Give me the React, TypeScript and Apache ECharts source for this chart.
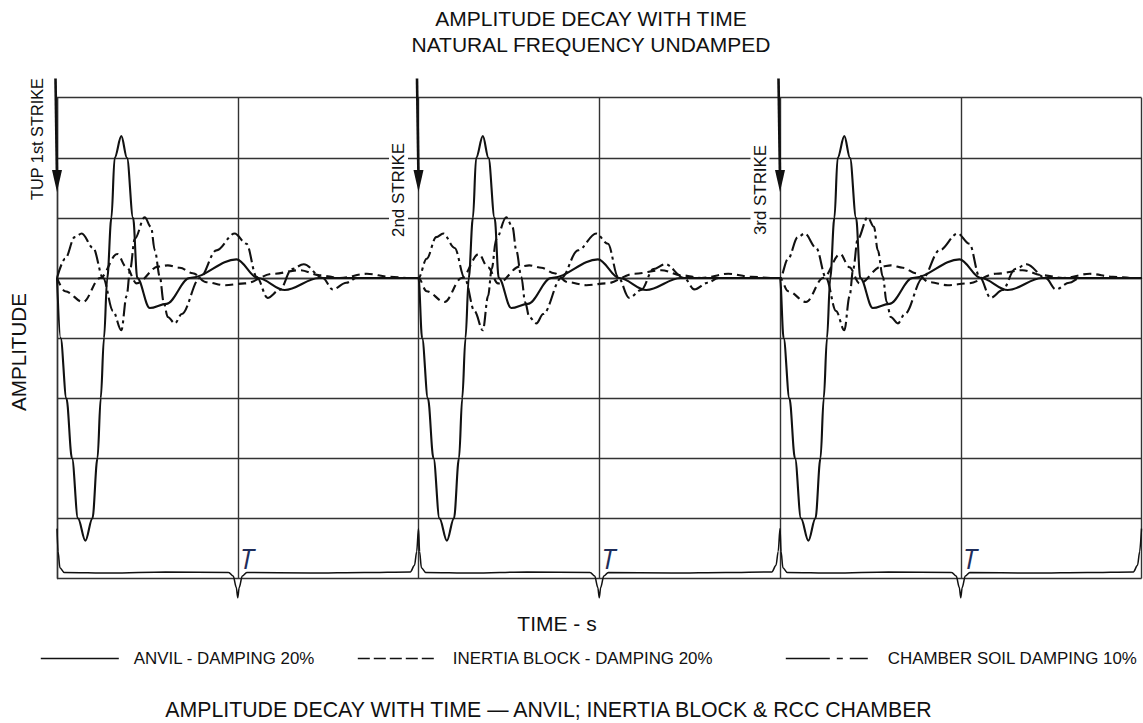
import React, { useEffect, useRef } from 'react';
import * as echarts from 'echarts';

// ---- data (time in natural-period units, amplitude in grid units) ----
const strikeTimes = [0, 2, 4];
const endTime = 6;
const strikeLabels = ['TUP 1st STRIKE', '2nd STRIKE', '3rd STRIKE'];
const naturalPeriodMarks = [1, 3, 5];
const seriesNames = ['ANVIL - DAMPING 20%', 'INERTIA BLOCK - DAMPING 20%', 'CHAMBER SOIL DAMPING 10%'];
const arrowTop = 3.32;
const arrowTip = 1.43;

// one strike response, [time after strike, amplitude]
const anvilPulse: [number, number][] = [
  [0, 0], [0.02, -1.0], [0.052, -2.0], [0.083, -3.0], [0.116, -4.0], [0.157, -4.37],
  [0.196, -4.0], [0.224, -3.0], [0.242, -2.0], [0.26, -1.0], [0.278, 0], [0.301, 1.0],
  [0.319, 2.0], [0.356, 2.36], [0.387, 2.0], [0.421, 1.0], [0.444, 0], [0.513, -0.5],
  [0.605, -0.43], [0.734, 0], [0.993, 0.31], [1.111, 0], [1.26, -0.2], [1.45, 0],
  [1.75, 0],
];
const inertiaPulse: [number, number][] = [
  [0, 0], [0.045, -0.22], [0.144, -0.4], [0.239, 0], [0.333, 0.4], [0.384, 0.18],
  [0.44, -0.09], [0.56, 0.19], [0.613, 0.21], [0.68, 0.17], [0.751, 0.08], [0.827, -0.07],
  [0.928, -0.12], [1.039, -0.09], [1.194, 0.07], [1.343, 0.13], [1.454, 0.045],
  [1.565, 0], [1.714, 0.07], [1.841, 0.02], [1.95, 0],
];
const chamberPulse: [number, number][] = [
  [0, 0], [0.045, 0.32], [0.098, 0.68], [0.137, 0.74], [0.2, 0.5], [0.255, 0],
  [0.31, -0.55], [0.356, -0.87], [0.385, -0.3], [0.405, 0.15], [0.43, 0.65], [0.485, 1.01],
  [0.52, 0.85], [0.541, 0.46], [0.569, 0.02], [0.59, -0.4], [0.613, -0.65], [0.652, -0.755],
  [0.69, -0.6], [0.79, 0], [0.882, 0.46], [0.983, 0.74], [1.048, 0.57], [1.104, 0.02],
  [1.165, -0.33], [1.232, -0.2], [1.3, 0.15], [1.365, 0.23], [1.47, 0], [1.526, -0.19],
  [1.6, -0.08], [1.659, 0], [1.8, 0], [1.95, 0],
];
const tupForce: [number, number][] = [
  [0, -4.17], [0.006, -4.55], [0.016, -4.82], [0.04, -4.9], [0.3, -4.91], [0.6, -4.89],
  [0.95, -4.9], [0.975, -4.96], [0.992, -5.15], [1.0, -5.32], [1.008, -5.15], [1.025, -4.96],
  [1.05, -4.9], [1.4, -4.91], [1.7, -4.9], [1.955, -4.89], [1.978, -4.78], [1.99, -4.55],
];

const FONT = '"Liberation Sans", Arial, sans-serif';
const INK = '#111';

function repeatPulse(p: [number, number][]): [number, number][] {
  const out: [number, number][] = [];
  strikeTimes.forEach((s) => p.forEach(([t, v]) => out.push([s + t, v])));
  out.push([endTime, p[0][1]]);
  return out;
}

function legendFor(name: string, left: number, width: number, dash: any, gap: number) {
  return {
    data: [name],
    left,
    top: 650,
    padding: 0,
    itemWidth: width,
    itemHeight: 20,
    selectedMode: false,
    itemStyle: { opacity: 0 },
    lineStyle: { type: dash, width: 1.6, color: INK },
    textStyle: { fontFamily: FONT, fontSize: 16.9, color: INK, padding: [0, 0, 0, gap] },
  };
}

export default function App() {
  const ref = useRef<HTMLDivElement>(null);
  useEffect(() => {
    if (!ref.current) return;
    const chart = echarts.init(ref.current, undefined, { renderer: 'svg' });
    const axisLine = { show: true, lineStyle: { color: '#333', width: 1.4 } };
    const split = { show: true, lineStyle: { color: '#333', width: 1.4 } };
    const lineSeries = (name: string, data: [number, number][], style: any, z = 3) => ({
      type: 'line', name, data, smooth: 0.35, smoothMonotone: 'x', symbol: 'none',
      showSymbol: false, clip: false, z, color: INK, itemStyle: { color: INK },
      lineStyle: { color: INK, width: 2.1, ...style },
    });
    chart.setOption({
      animation: false,
      backgroundColor: '#fff',
      grid: { left: 57, right: 1.5, top: 97.7, bottom: 144.5, containLabel: false },
      xAxis: {
        type: 'value', min: 0, max: endTime, interval: 1,
        axisLine, splitLine: split, axisTick: { show: false }, axisLabel: { show: false },
      },
      yAxis: {
        type: 'value', min: -5, max: 3, interval: 1,
        axisLine, splitLine: split, axisTick: { show: false }, axisLabel: { show: false },
      },
      legend: [
        legendFor(seriesNames[0], 40, 78, 'solid', 10),
        legendFor(seriesNames[1], 357, 78, [12, 4], 12),
        legendFor(seriesNames[2], 785, 82, [44, 7, 6, 7], 15),
      ],
      series: [
        lineSeries(seriesNames[0], repeatPulse(anvilPulse), {}, 4),
        lineSeries(seriesNames[1], repeatPulse(inertiaPulse), { type: [8, 5] }),
        lineSeries(seriesNames[2], repeatPulse(chamberPulse), { type: [14, 4, 3, 4] }),
        { ...lineSeries('TUP FORCE', repeatPulse(tupForce), { width: 1.5 }), smooth: 0.3 },
      ],
    });

    const px = (x: number, y: number) =>
      chart.convertToPixel({ xAxisIndex: 0, yAxisIndex: 0 }, [x, y]) as number[];
    const txt = (text: string, x: number, y: number, size: number, extra: any = {}, rot = 0) => ({
      type: 'text', x, y, rotation: rot, z: 10,
      style: {
        text, fontFamily: FONT, fontSize: size, fill: INK, align: 'center', verticalAlign: 'middle',
        ...extra,
      },
    });
    const graphics: any[] = [
      txt('AMPLITUDE DECAY WITH TIME', 591, 18, 21),
      txt('NATURAL FREQUENCY UNDAMPED', 591, 44, 21),
      txt('AMPLITUDE', 18, 352, 20.6, {}, Math.PI / 2),
      txt('TIME - s', 557, 623, 21),
      txt('AMPLITUDE DECAY WITH TIME \u2014 ANVIL; INERTIA BLOCK & RCC CHAMBER', 548.5, 710, 21.3),
    ];
    strikeTimes.forEach((s, i) => {
      const top = px(s, arrowTop);
      const tip = px(s, arrowTip);
      graphics.push({
        type: 'line', z: 9,
        shape: { x1: top[0] - 1.5, y1: top[1], x2: tip[0], y2: tip[1] - 12 },
        style: { stroke: INK, lineWidth: 2.6 },
      });
      graphics.push({
        type: 'polygon', z: 9,
        shape: { points: [[tip[0] - 5, tip[1] - 22], [tip[0] + 5, tip[1] - 22], [tip[0], tip[1]]] },
        style: { fill: INK },
      });
      graphics.push(
        txt(strikeLabels[i], top[0] - 20, i === 0 ? 139 : 190, i === 0 ? 16.3 : 16.9,
          i === 0 ? {} : { backgroundColor: '#fff', padding: [1, 4] }, Math.PI / 2),
      );
    });
    naturalPeriodMarks.forEach((m) => {
      const p = px(m, 0);
      graphics.push({
        type: 'text', x: p[0] + 9, y: 558, z: 10,
        style: {
          text: 'T', fontFamily: '"Open Sans", sans-serif', fontStyle: 'italic', fontSize: 27,
          fill: '#1f2d5a', align: 'center', verticalAlign: 'middle',
        },
      });
    });
    chart.setOption({ graphic: graphics });
    return () => chart.dispose();
  }, []);
  return (
    <div
      ref={ref}
      style={{ position: 'absolute', left: 0, top: 0, width: 1143, height: 723, background: '#fff' }}
    />
  );
}
